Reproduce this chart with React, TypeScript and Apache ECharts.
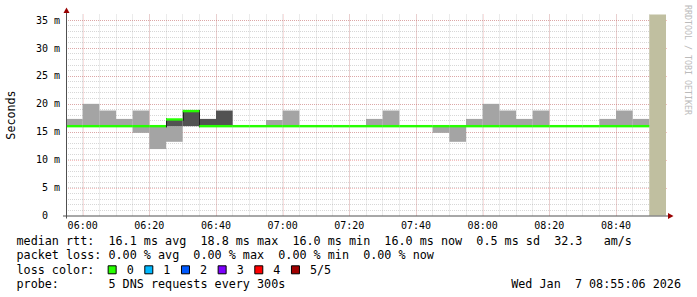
import React, { useEffect, useRef } from 'react';
import * as echarts from 'echarts';

// ---- data ----
const binStarts = ['05:55', '06:00', '06:05', '06:10', '06:15', '06:20', '06:25', '06:30', '06:35', '06:40', '06:45', '06:50',
  '06:55', '07:00', '07:05', '07:10', '07:15', '07:20', '07:25', '07:30', '07:35', '07:40', '07:45', '07:50',
  '07:55', '08:00', '08:05', '08:10', '08:15', '08:20', '08:25', '08:30', '08:35', '08:40', '08:45', '08:50'];
const lightLow = [16.0, 16.0, 16.0, 16.0, 14.8, 11.9, 13.2, null, null, null, null, null,
  16.0, 16.0, null, null, null, null, 16.0, 16.0, null, null, 14.8, 13.2,
  16.0, 16.0, 16.0, 16.0, 16.0, null, null, null, 16.0, 16.0, 16.0, null];
const lightHigh = [17.3, 20.0, 18.8, 17.3, 18.8, 16.0, 16.0, null, null, null, null, null,
  17.1, 18.8, null, null, null, null, 17.3, 18.8, null, null, 16.0, 16.0,
  17.3, 20.0, 18.8, 17.3, 18.8, null, null, null, 17.3, 18.8, 17.3, null];
const darkLow = [null, null, null, null, null, null, 16.0, 16.0, 16.0, 16.0, null, null,
  null, null, null, null, null, null, null, null, null, null, null, null,
  null, null, null, null, null, null, null, null, null, null, null, null];
const darkHigh = [null, null, null, null, null, null, 17.2, 18.7, 17.3, 18.8, null, null,
  null, null, null, null, null, null, null, null, null, null, null, null,
  null, null, null, null, null, null, null, null, null, null, null, null];
const medianRtt = [16.0, 16.0, 16.0, 16.0, 16.0, 16.0, 17.2, 18.7, 16.0, 16.0, 16.0, 16.0,
  16.0, 16.0, 16.0, 16.0, 16.0, 16.0, 16.0, 16.0, 16.0, 16.0, 16.0, 16.0,
  16.0, 16.0, 16.0, 16.0, 16.0, 16.0, 16.0, 16.0, 16.0, 16.0, 16.0, null];
const noDataBins = ['08:50'];
const xTickLabels = ['06:00', '06:20', '06:40', '07:00', '07:20', '07:40', '08:00', '08:20', '08:40'];
const yTickValues = [0, 5, 10, 15, 20, 25, 30, 35];
const lossLabels = ['0', '1', '2', '3', '4', '5/5'];
const lossColors = ['#26ff00', '#00b8ff', '#0059ff', '#7e00ff', '#ff0000', '#a10000'];
const legendLines = [
  'median rtt:  16.1 ms avg  18.8 ms max  16.0 ms min  16.0 ms now  0.5 ms sd  32.3   am/s',
  'packet loss: 0.00 % avg  0.00 % max  0.00 % min  0.00 % now',
  'loss color:',
  'probe:       5 DNS requests every 300s',
];
const timestamp = 'Wed Jan  7 08:55:06 2026';
const watermark = 'RRDTOOL / TOBI OETIKER';

// ---- layout ----
const STEP_MIN = 5;
const X_MIN = 355;
const X_MAX = 535;
const Y_MIN = 0;
const Y_MAX = 36;
const GL = 66;
const GT = 14.5;
const GW = 600;
const GH = 201;
const MONO = "'DejaVu Sans Mono', monospace";
const CW = 7.05; // monospace char advance at legend size

const toMin = (s: string) => {
  const [h, m] = s.split(':').map(Number);
  return h * 60 + m;
};
const fmt = (v: number) =>
  `${String(Math.floor(v / 60)).padStart(2, '0')}:${String(Math.round(v % 60)).padStart(2, '0')}`;

const rectItem = (fill: string) => (params: any, api: any) => {
  const a = api.coord([api.value(0), api.value(3)]);
  const b = api.coord([api.value(1), api.value(2)]);
  return {
    type: 'rect',
    shape: { x: a[0], y: a[1], width: b[0] - a[0], height: b[1] - a[1] },
    style: { fill },
  };
};

export default function App() {
  const ref = useRef<HTMLDivElement>(null);
  useEffect(() => {
    if (!ref.current) return;
    const chart = echarts.init(ref.current, undefined, { renderer: 'svg' });

    const band = (lo: (number | null)[], hi: (number | null)[]) =>
      binStarts
        .map((s, i) => (lo[i] == null || hi[i] == null ? null : [toMin(s), toMin(s) + STEP_MIN, lo[i], hi[i]]))
        .filter(Boolean);

    const lightData = band(lightLow, lightHigh);
    const darkData = band(darkLow, darkHigh);
    const unknownData = noDataBins.map((s) => [toMin(s), toMin(s) + STEP_MIN, Y_MIN, Y_MAX]);
    const medianData = binStarts
      .map((s, i) => (medianRtt[i] == null ? null : [toMin(s), toMin(s) + STEP_MIN, medianRtt[i]]))
      .filter(Boolean);
    const stepData = binStarts
      .map((s, i) =>
        i > 0 && medianRtt[i] != null && medianRtt[i - 1] != null && medianRtt[i] !== medianRtt[i - 1]
          ? [toMin(s), medianRtt[i - 1], medianRtt[i]]
          : null
      )
      .filter(Boolean);
    const majorX = xTickLabels.map((l) => [toMin(l), Y_MIN]);
    const majorY = yTickValues.filter((v) => v > Y_MIN).map((v) => [X_MIN, v]);

    const gridColor = 'rgba(150,150,150,0.38)';
    const majorColor = 'rgba(230,90,90,0.38)';

    const graphics: any[] = [];
    // axes
    graphics.push({ type: 'line', shape: { x1: GL + 0.5, y1: GT + GH + 3, x2: GL + 0.5, y2: GT - 2 }, style: { stroke: '#505050', lineWidth: 1 }, z: 50 });
    graphics.push({ type: 'line', shape: { x1: GL - 3, y1: GT + GH + 0.5, x2: GL + GW + 3, y2: GT + GH + 0.5 }, style: { stroke: '#505050', lineWidth: 1 }, z: 50 });
    graphics.push({ type: 'polygon', shape: { points: [[GL - 2.5, GT - 1.5], [GL + 3.5, GT - 1.5], [GL + 0.5, GT - 7]] }, style: { fill: '#990000' }, z: 51 });
    graphics.push({ type: 'polygon', shape: { points: [[GL + GW + 2, GT + GH - 2.5], [GL + GW + 2, GT + GH + 3.5], [GL + GW + 7.5, GT + GH + 0.5]] }, style: { fill: '#990000' }, z: 51 });
    // watermark
    graphics.push({
      type: 'text', x: 688, y: 5, rotation: -Math.PI / 2,
      style: { text: watermark, fill: '#bbbbbb', font: `8.3px ${MONO}`, textAlign: 'left', textVerticalAlign: 'middle' },
    });
    // legend
    const lineY = [241, 255.4, 269.8, 284.2];
    legendLines.forEach((t, i) => {
      graphics.push({ type: 'text', x: 16.5, y: lineY[i], style: { text: t, fill: '#000', font: `11.75px ${MONO}`, textAlign: 'left', textVerticalAlign: 'middle' } });
    });
    lossLabels.forEach((lab, i) => {
      const bx = 16 + CW * (13 + i * 5.2);
      graphics.push({ type: 'rect', shape: { x: bx + 0.5, y: lineY[2] - 4, width: 8, height: 8 }, style: { fill: lossColors[i], stroke: '#000', lineWidth: 1 } });
      graphics.push({ type: 'text', x: bx + 19, y: lineY[2], style: { text: lab, fill: '#000', font: `11.75px ${MONO}`, textAlign: 'left', textVerticalAlign: 'middle' } });
    });
    graphics.push({ type: 'text', x: 681, y: lineY[3], style: { text: timestamp, fill: '#000', font: `11.75px ${MONO}`, textAlign: 'right', textVerticalAlign: 'middle' } });

    chart.setOption({
      animation: false,
      backgroundColor: '#ffffff',
      grid: { left: GL, top: GT, width: GW, height: GH, outerBoundsMode: 'none', containLabel: false },
      xAxis: {
        type: 'value', min: X_MIN, max: X_MAX, interval: STEP_MIN,
        axisLine: { show: false }, axisTick: { show: false },
        axisLabel: {
          formatter: (v: number) => (xTickLabels.includes(fmt(v)) ? fmt(v) : ''),
          fontFamily: MONO, fontSize: 10, color: '#000', margin: 5,
        },
        splitLine: { show: true, showMinLine: false, showMaxLine: false, lineStyle: { color: gridColor, type: [1, 1], width: 1 } },
      },
      yAxis: {
        type: 'value', min: Y_MIN, max: Y_MAX, interval: 1,
        name: 'Seconds', nameLocation: 'middle', nameGap: 49, nameRotate: 90,
        nameTextStyle: { fontFamily: MONO, fontSize: 11.7, color: '#000' },
        axisLine: { show: false }, axisTick: { show: false },
        axisLabel: {
          formatter: (v: number) => (v === 0 ? '{z|0}' : yTickValues.includes(v) ? `${v} m` : ''),
          fontFamily: MONO, fontSize: 10, color: '#000', margin: 6,
          rich: { z: { fontFamily: MONO, fontSize: 10, color: '#000', padding: [0, 12, 0, 0] } },
        },
        splitLine: { show: true, showMinLine: false, showMaxLine: false, lineStyle: { color: gridColor, type: [1, 1], width: 1 } },
      },
      graphic: graphics,
      series: [
        {
          type: 'custom', name: 'majorX', z: 1, silent: true, data: majorX,
          renderItem: (params: any, api: any) => {
            const p = api.coord([api.value(0), api.value(1)]);
            const cs = params.coordSys;
            return { type: 'line', shape: { x1: Math.round(p[0]) + 0.5, y1: cs.y, x2: Math.round(p[0]) + 0.5, y2: cs.y + cs.height }, style: { stroke: majorColor, lineWidth: 1, lineDash: [1, 1] } };
          },
        },
        {
          type: 'custom', name: 'majorY', z: 1, silent: true, data: majorY,
          renderItem: (params: any, api: any) => {
            const p = api.coord([api.value(0), api.value(1)]);
            const cs = params.coordSys;
            return { type: 'line', shape: { x1: cs.x, y1: Math.round(p[1]) + 0.5, x2: cs.x + cs.width + 2, y2: Math.round(p[1]) + 0.5 }, style: { stroke: majorColor, lineWidth: 1, lineDash: [1, 1] } };
          },
        },
        { type: 'custom', name: 'smoke', z: 2, silent: true, data: lightData, encode: { x: [0, 1], y: [2, 3] }, renderItem: rectItem('#a4a4a4') },
        { type: 'custom', name: 'smokeCore', z: 3, silent: true, data: darkData, encode: { x: [0, 1], y: [2, 3] }, renderItem: rectItem('#525252') },
        { type: 'custom', name: 'unknown', z: 2, silent: true, data: unknownData, encode: { x: [0, 1], y: [2, 3] }, renderItem: rectItem('#c0bfa0') },
        {
          type: 'custom', name: 'medianStep', z: 4, silent: true, data: stepData, encode: { x: 0, y: [1, 2] },
          renderItem: (params: any, api: any) => {
            const a = api.coord([api.value(0), api.value(1)]);
            const b = api.coord([api.value(0), api.value(2)]);
            const x = Math.round(a[0]) + 0.5;
            const up = b[1] < a[1];
            return { type: 'line', shape: { x1: x, y1: a[1] + (up ? 1.2 : -1.2), x2: x, y2: b[1] + (up ? -1.2 : 1.2) }, style: { stroke: '#202020', lineWidth: 1 } };
          },
        },
        {
          type: 'custom', name: 'median', z: 5, silent: true, data: medianData, encode: { x: [0, 1], y: 2 },
          renderItem: (params: any, api: any) => {
            const a = api.coord([api.value(0), api.value(2)]);
            const b = api.coord([api.value(1), api.value(2)]);
            return { type: 'rect', shape: { x: a[0], y: a[1] - 1.2, width: b[0] - a[0], height: 2.4 }, style: { fill: lossColors[0] } };
          },
        },
      ],
    });
    return () => chart.dispose();
  }, []);
  return <div ref={ref} style={{ position: 'fixed', left: 0, top: 0, width: 697, height: 297 }} />;
}
